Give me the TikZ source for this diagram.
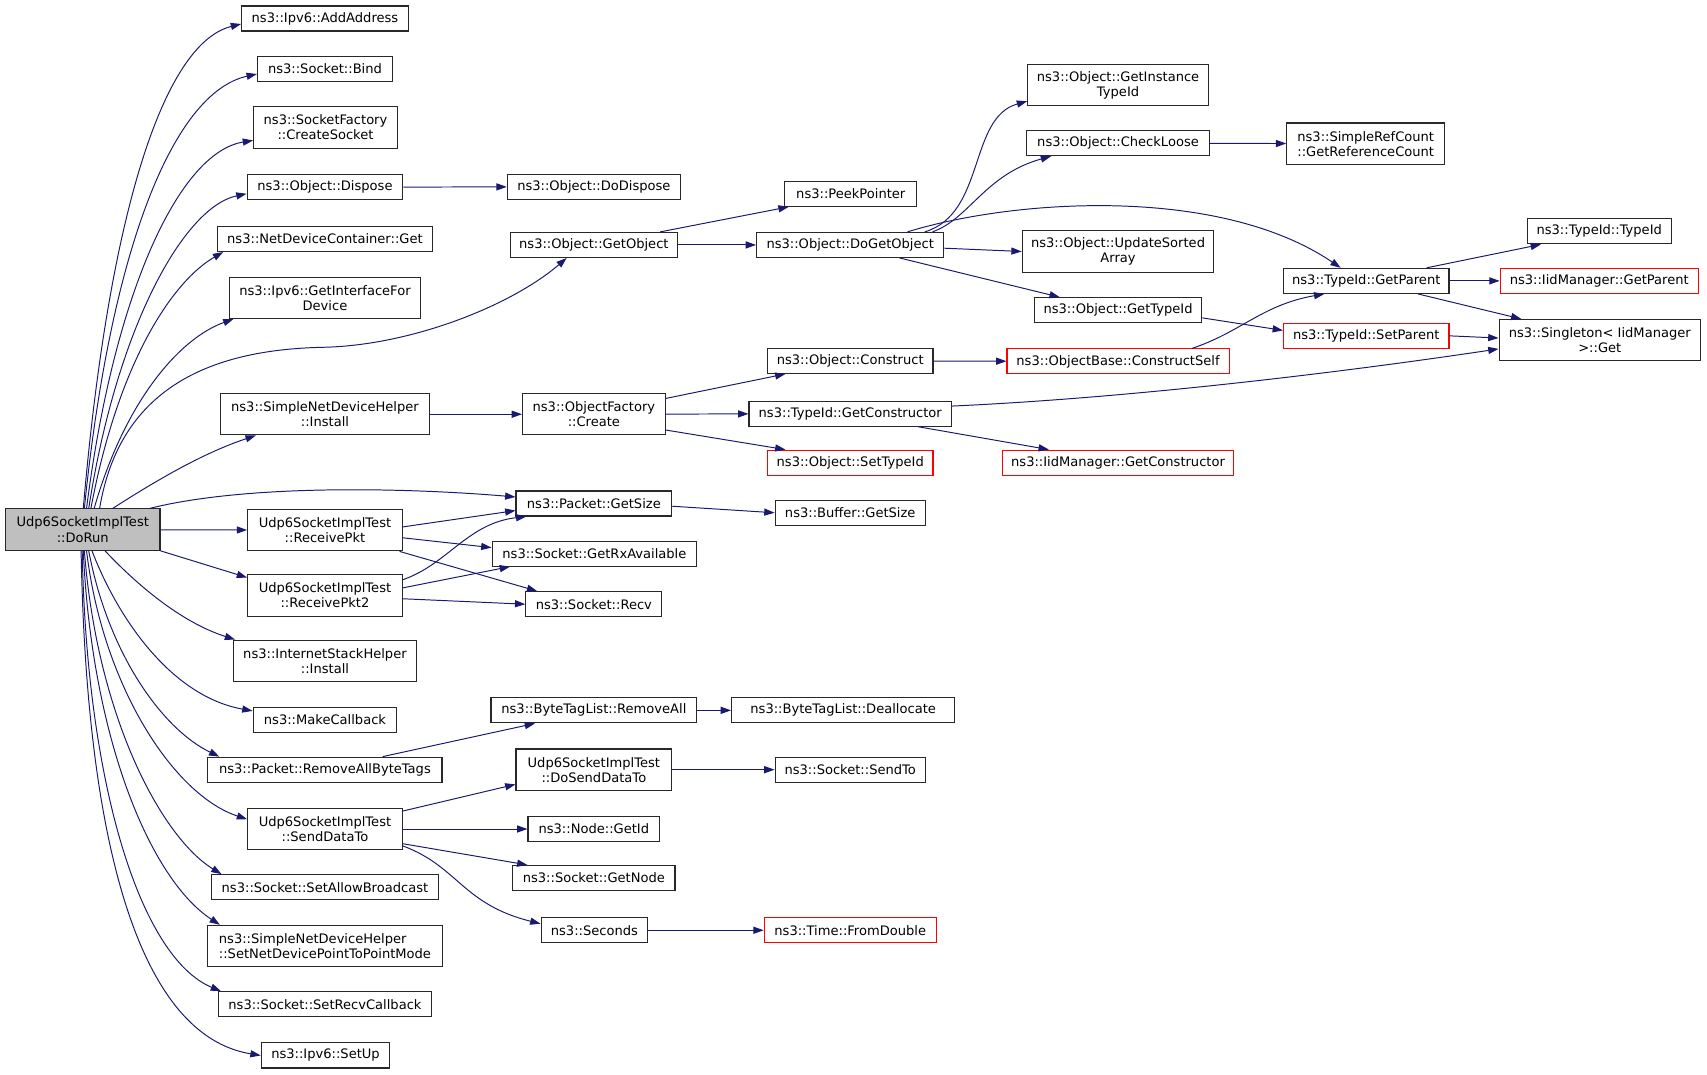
\documentclass[tikz,border=0pt]{standalone}
\usepackage{fontspec}
\setmainfont{DejaVu Sans}
\usetikzlibrary{arrows.meta}

\definecolor{edgeblue}{RGB}{25,25,112}
\definecolor{boxline}{RGB}{40,40,40}
\definecolor{boxred}{RGB}{255,0,0}
\definecolor{mainfill}{RGB}{191,191,191}

\tikzset{
  every box/.style={draw=boxline, line width=1pt, inner sep=0pt, align=center,
    minimum height=23, font=\fontsize{12}{13.8}\selectfont},
  fn/.style={},
  fnii/.style={minimum height=38},
  fnleft/.style={minimum height=38, align=left},
  fnred/.style={draw=boxred},
  fnmain/.style={minimum height=38, fill=mainfill},
  call/.style={edgeblue, line width=0.9pt}
}

\begin{document}
\begin{tikzpicture}[x=1pt, y=-1pt, >={Triangle[length=9.5pt,width=6.5pt]}, scale=1.0]

\useasboundingbox (0,0) rectangle (1568,987);

% Definição das caixas

\foreach \n/\x/\y/\w/\s/\t in {
  dorun/76/486.5/142/fnmain/{Udp6SocketImplTest\\::DoRun},
  addaddress/298.5/17/153/fn/{ns3::Ipv6::AddAddress},
  bind/298.5/63/124/fn/{ns3::Socket::Bind},
  createsocket/299/117/132/fnii/{ns3::SocketFactory\\::CreateSocket},
  dispose/298.5/172/143/fn/{ns3::Object::Dispose},
  ndcget/298.5/219.5/198/fn/{ns3::NetDeviceContainer::Get},
  getiface/298.5/273.5/175/fnii/{ns3::Ipv6::GetInterfaceFor\\Device},
  sndhinstall/298.5/380.5/192/fnii/{ns3::SimpleNetDeviceHelper\\::Install},
  recvpkt/298.5/487/142/fnii/{Udp6SocketImplTest\\::ReceivePkt},
  recvpkt2/298.5/547/142/fnii/{Udp6SocketImplTest\\::ReceivePkt2},
  ishinstall/298.5/607/168/fnii/{ns3::InternetStackHelper\\::Install},
  makecb/298.5/661/132/fn/{ns3::MakeCallback},
  rmtags/298.5/707/215/fn/{ns3::Packet::RemoveAllByteTags},
  senddatato/298.5/761.5/142/fnii/{Udp6SocketImplTest\\::SendDataTo},
  setbcast/298.5/815/209/fn/{ns3::Socket::SetAllowBroadcast},
  setp2p/298.5/869/216/fnleft/{ns3::SimpleNetDeviceHelper\\::SetNetDevicePointToPointMode},
  setrecvcb/298.5/922.5/196/fn/{ns3::Socket::SetRecvCallback},
  setup/299/969.5/118/fn/{ns3::Ipv6::SetUp}}
  \node [every box/.try, \s, minimum width=\w] (\n) at (\x,\y) {\t};

\foreach \n/\x/\y/\w/\s/\t in {
  dodispose/545.5/171.5/159/fn/{ns3::Object::DoDispose},
  getobject/545.5/225/153/fn/{ns3::Object::GetObject},
  ofcreate/545.5/380.5/131/fnii/{ns3::ObjectFactory\\::Create},
  pktsize/545.5/462.5/143/fn/{ns3::Packet::GetSize},
  rxavail/546/508.5/188/fn/{ns3::Socket::GetRxAvailable},
  recv/545.5/555/125/fn/{ns3::Socket::Recv},
  btlremove/545.5/652.5/189/fn/{ns3::ByteTagList::RemoveAll},
  dosenddatato/545.5/707/143/fnii/{Udp6SocketImplTest\\::DoSendDataTo},
  nodeid/545.5/761.5/121/fn/{ns3::Node::GetId},
  getnode/545.5/806.5/149/fn/{ns3::Socket::GetNode},
  seconds/546/854.5/98/fn/{ns3::Seconds}}
  \node [every box/.try, \s, minimum width=\w] (\n) at (\x,\y) {\t};

\foreach \n/\x/\y/\w/\s/\t in {
  peekptr/781.5/178/121/fn/{ns3::PeekPointer},
  dogetobject/781/225/172/fn/{ns3::Object::DoGetObject},
  construct/781/331.5/152/fn/{ns3::Object::Construct},
  getctor/781/380/186/fn/{ns3::TypeId::GetConstructor},
  settypeid/781/425/152/fnred/{ns3::Object::SetTypeId},
  bufsize/781/471/138/fn/{ns3::Buffer::GetSize},
  btldealloc/774.5/652.5/205/fn/{ns3::ByteTagList::Deallocate},
  sendto/781/707/138/fn/{ns3::Socket::SendTo},
  fromdouble/781/854.5/158/fnred/{ns3::Time::FromDouble}}
  \node [every box/.try, \s, minimum width=\w] (\n) at (\x,\y) {\t};

\foreach \n/\x/\y/\w/\s/\t in {
  getinsttid/1027/78/166/fnii/{ns3::Object::GetInstance\\TypeId},
  checkloose/1027/131.5/168/fn/{ns3::Object::CheckLoose},
  updsorted/1027/231/176/fnii/{ns3::Object::UpdateSorted\\Array},
  gettypeid/1027/285/154/fn/{ns3::Object::GetTypeId},
  constructself/1027/332/204/fnred/{ns3::ObjectBase::ConstructSelf},
  iidgetctor/1027/425/212/fnred/{ns3::IidManager::GetConstructor},
  getrefcount/1254.5/132/145/fnii/{ns3::SimpleRefCount\\::GetReferenceCount},
  getparent/1255/258/152/fn/{ns3::TypeId::GetParent},
  setparent/1255/308.5/152/fnred/{ns3::TypeId::SetParent},
  typeid/1469/212.5/132/fn/{ns3::TypeId::TypeId},
  iidgetparent/1469/258/182/fnred/{ns3::IidManager::GetParent},
  singleton/1469.5/312.5/185/fnii/{ns3::Singleton< IidManager\\>::Get}}
  \node [every box/.try, \s, minimum width=\w] (\n) at (\x,\y) {\t};

% Definição das setas retas.

\foreach \a/\b in {dorun/recvpkt, dispose/dodispose, sndhinstall/ofcreate,
    getobject/dogetobject, ofcreate/getctor, construct/constructself,
    checkloose/getrefcount, getparent/iidgetparent, btlremove/btldealloc,
    dosenddatato/sendto, senddatato/nodeid, seconds/fromdouble}
  \draw [call, ->] (\a) -- (\b);

% Definição das setas a partir de DoRun.

\draw [call, ->] ([xshift=72]dorun.north west) .. controls +(23,-268) and +(-72,18) .. ([yshift=-5]addaddress.west);
\draw [call, ->] ([xshift=73]dorun.north west) .. controls +(24,-238) and +(-77,17) .. ([yshift=-5]bind.west);
\draw [call, ->] ([xshift=75]dorun.north west) .. controls +(25,-198) and +(-68,11) .. ([yshift=-12]createsocket.west);
\draw [call, ->] ([xshift=77]dorun.north west) .. controls +(26,-168) and +(-57,12) .. ([yshift=-6]dispose.west);
\draw [call, ->] ([xshift=79]dorun.north west) .. controls +(26,-138) and +(-45,26) .. ([xshift=6]ndcget.south west);
\draw [call, ->] ([xshift=82]dorun.north west) .. controls +(28,-98) and +(-50,18) .. ([xshift=4]getiface.south west);
\draw [call, ->] ([xshift=87]dorun.north west) .. controls +(18,-108) and +(-108,2) .. ++(206,-148)
  .. controls +(82,-2) and +(-50,43) .. ([xshift=-25]getobject.south);
\draw [call, ->] ([xshift=99]dorun.north west) .. controls +(36,-23) and +(-51,17) .. ([xshift=33]sndhinstall.south west);
\draw [call, ->] ([xshift=133]dorun.north west) .. controls +(92,-23) and +(-94,-8) .. ([yshift=6]pktsize.west);
\draw [call, ->] (dorun.south east) -- ([yshift=-3]recvpkt2.north west);
\draw [call, ->] ([xshift=92]dorun.south west) .. controls +(33,35) and +(-47,-15) .. ([xshift=2]ishinstall.north west);
\draw [call, ->] ([xshift=80]dorun.south west) .. controls +(25,65) and +(-73,-13) .. ([yshift=8]makecb.west);
\draw [call, ->] ([xshift=77]dorun.south west) .. controls +(18,95) and +(-52,-25) .. ([xshift=11]rmtags.north west);
\draw [call, ->] ([xshift=75]dorun.south west) .. controls +(15,125) and +(-67,-22) .. ([yshift=9]senddatato.west);
\draw [call, ->] ([xshift=73]dorun.south west) .. controls +(12,155) and +(-54,-33) .. ([xshift=10]setbcast.north west);
\draw [call, ->] ([xshift=72]dorun.south west) .. controls +(8,175) and +(-63,-41) .. ([xshift=12]setp2p.north west);
\draw [call, ->] ([xshift=71]dorun.south west) .. controls +(4,215) and +(-74,-31) .. ([xshift=3]setrecvcb.north west);
\draw [call, ->] ([xshift=70]dorun.south west) .. controls +(5,275) and +(-110,-18) .. (setup.west);

% Definição das outras setas.

\draw [call, ->] ([xshift=-16]getobject.north east) -- ([xshift=4]peekptr.south west);
\draw [call, ->] ([xshift=-18]dogetobject.north east) .. controls +(56,-17) and +(-54,15) .. ([yshift=-15]getinsttid.west);
\draw [call, ->] ([xshift=-11]dogetobject.north east) .. controls +(34,-12) and +(-61,17) .. ([xshift=23]checkloose.south west);
\draw [call, ->] ([xshift=-34]dogetobject.north east) .. controls +(97,-30) and +(-112,-76) .. ([xshift=53]getparent.north west);
\draw [call, ->] ([yshift=-3]dogetobject.east) -- (updsorted.west);
\draw [call, ->] ([xshift=-41]dogetobject.south east) -- ([xshift=24]gettypeid.north west);
\draw [call, ->] ([yshift=5]gettypeid.south east) -- ([yshift=5]setparent.west);
\draw [call, ->] ([xshift=68]constructself.north) .. controls +(45,-15) and +(-57,10) .. ([xshift=38]getparent.south west);
\draw [call, ->] ([xshift=-21]getparent.north east) -- ([xshift=13]typeid.south west);
\draw [call, ->] ([xshift=-29]getparent.south east) -- ([xshift=21]singleton.north west);
\draw [call, ->] (setparent.east) -- ([yshift=2]singleton.west);
\draw [call, ->] ([yshift=-5]ofcreate.north east) -- ([xshift=17]construct.south west);
\draw [call, ->] ([yshift=5]ofcreate.south east) -- ([xshift=17]settypeid.north west);
\draw [call, ->] ([yshift=7]getctor.east) .. controls +(176,-8) and +(-127,19) .. ([yshift=-8]singleton.west);
\draw [call, ->] ([xshift=-31]getctor.south east) -- ([xshift=43]iidgetctor.north west);
\draw [call, ->] ([yshift=-2.5]pktsize.east) -- (bufsize.west);
\draw [call, ->] ([yshift=3]recvpkt.east) -- ([yshift=-6.5]pktsize.west);
\draw [call, ->] ([yshift=-7]recvpkt.east) -- ([yshift=5.5]rxavail.west);
\draw [call, ->] ([xshift=-3]recvpkt.south east) -- ([xshift=11]recv.north west);
\draw [call, ->] ([yshift=-5]recvpkt2.north east) .. controls +(41,-14) and +(-54,6) .. ([xshift=10]pktsize.south west);
\draw [call, ->] ([yshift=7]recvpkt2.east) -- ([xshift=17]rxavail.south west);
\draw [call, ->] ([yshift=-3]recvpkt2.east) -- (recv.west);
\draw [call, ->] ([xshift=53]rmtags.north) -- ([xshift=41]btlremove.south west);
\draw [call, ->] ([yshift=-3]senddatato.north east) -- ([yshift=6]dosenddatato.south west);
\draw [call, ->] ([yshift=6]senddatato.south east) -- ([xshift=14]getnode.north west);
\draw [call, ->] ([yshift=4]senddatato.south east) .. controls +(51,19) and +(-72,-18) .. ([yshift=6]seconds.west);

\end{tikzpicture}
\end{document}
